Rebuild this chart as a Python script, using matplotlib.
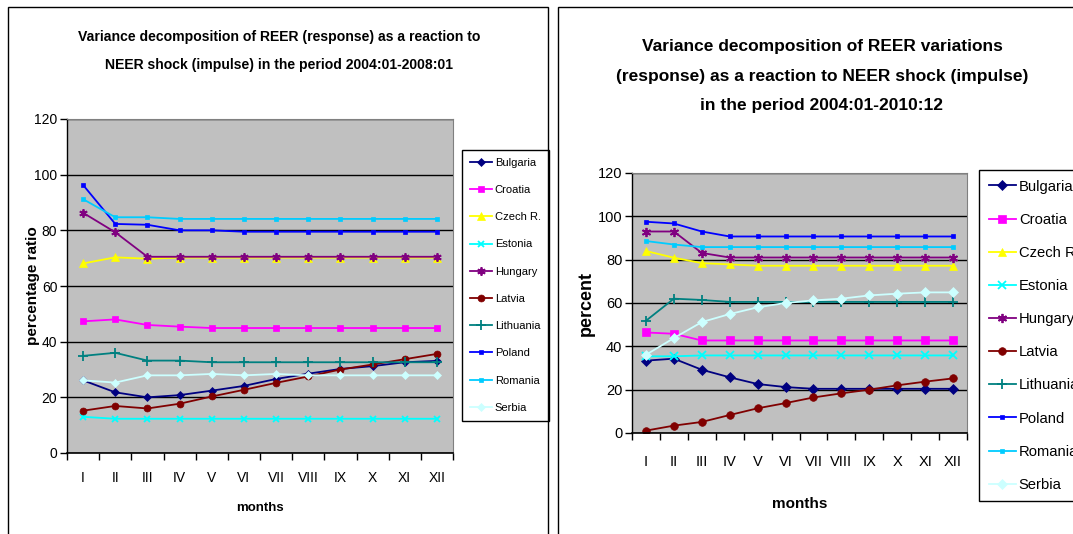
import matplotlib
matplotlib.use("Agg")
import matplotlib.pyplot as plt
from matplotlib import font_manager
from matplotlib.patches import Rectangle

# excel used Arial Narrow; take Liberation Sans Narrow when it is there
names = {f.name for f in font_manager.fontManager.ttflist}
if "Liberation Sans Narrow" in names:
    plt.rcParams["font.family"] = ["Liberation Sans Narrow", "DejaVu Sans"]
    k = 1.2
else:
    plt.rcParams["font.family"] = ["Liberation Sans", "DejaVu Sans"]
    k = 1.0

months = ["I", "II", "III", "IV", "V", "VI", "VII", "VIII", "IX", "X", "XI", "XII"]
countries = ["Bulgaria", "Croatia", "Czech R.", "Estonia", "Hungary",
             "Latvia", "Lithuania", "Poland", "Romania", "Serbia"]

# 2004:01-2008:01
bulgaria_08 = [26.1, 21.8, 20.0, 20.8, 22.4, 24.1, 26.6, 28.5, 30.2, 31.2, 32.6, 33.1]
croatia_08 = [47.3, 48.0, 46.0, 45.4, 44.9, 44.9, 44.9, 44.9, 44.9, 44.9, 44.9, 44.9]
czech_08 = [68.1, 70.3, 69.8, 70.2, 70.2, 70.2, 70.2, 70.2, 70.2, 70.2, 70.2, 70.2]
estonia_08 = [13.0, 12.3, 12.3, 12.3, 12.3, 12.3, 12.3, 12.3, 12.3, 12.3, 12.3, 12.3]
hungary_08 = [86.3, 79.3, 70.5, 70.5, 70.5, 70.5, 70.5, 70.5, 70.5, 70.5, 70.5, 70.5]
latvia_08 = [15.2, 16.9, 16.0, 17.7, 20.3, 22.7, 25.2, 27.5, 30.0, 31.8, 33.7, 35.6]
lithuania_08 = [34.9, 36.0, 33.2, 33.2, 32.6, 32.6, 32.6, 32.6, 32.6, 32.6, 32.6, 32.6]
poland_08 = [96.3, 82.3, 82.0, 80.0, 80.0, 79.5, 79.5, 79.5, 79.5, 79.5, 79.5, 79.5]
romania_08 = [91.2, 84.7, 84.7, 84.1, 84.1, 84.1, 84.1, 84.1, 84.1, 84.1, 84.1, 84.1]
serbia_08 = [26.1, 25.3, 27.9, 27.9, 28.4, 27.9, 28.4, 27.9, 27.9, 27.9, 27.9, 27.9]

# 2004:01-2010:12
bulgaria_10 = [33.4, 34.3, 29.2, 25.7, 22.6, 21.2, 20.4, 20.4, 20.4, 20.4, 20.4, 20.4]
croatia_10 = [46.4, 45.8, 42.7, 42.7, 42.7, 42.7, 42.7, 42.7, 42.7, 42.7, 42.7, 42.7]
czech_10 = [84.0, 80.9, 78.4, 77.8, 77.2, 77.2, 77.2, 77.2, 77.2, 77.2, 77.2, 77.2]
estonia_10 = [35.4, 35.4, 35.8, 35.8, 35.8, 35.8, 35.8, 35.8, 35.8, 35.8, 35.8, 35.8]
hungary_10 = [93.0, 93.0, 83.1, 81.0, 81.0, 81.0, 81.0, 81.0, 81.0, 81.0, 81.0, 81.0]
latvia_10 = [1.1, 3.4, 5.1, 8.3, 11.4, 13.8, 16.4, 18.3, 20.0, 22.0, 23.7, 25.2]
lithuania_10 = [51.8, 62.0, 61.4, 60.5, 60.5, 60.5, 60.5, 60.5, 60.5, 60.5, 60.5, 60.5]
poland_10 = [97.5, 96.7, 93.0, 90.7, 90.7, 90.7, 90.7, 90.7, 90.7, 90.7, 90.7, 90.7]
romania_10 = [88.6, 87.0, 85.8, 85.8, 85.8, 85.8, 85.8, 85.8, 85.8, 85.8, 85.8, 85.8]
serbia_10 = [36.1, 43.8, 51.2, 54.9, 58.0, 60.0, 61.2, 62.0, 63.5, 64.3, 64.9, 64.9]

series_08 = [bulgaria_08, croatia_08, czech_08, estonia_08, hungary_08,
             latvia_08, lithuania_08, poland_08, romania_08, serbia_08]
series_10 = [bulgaria_10, croatia_10, czech_10, estonia_10, hungary_10,
             latvia_10, lithuania_10, poland_10, romania_10, serbia_10]

# excel style per country: colour, marker, marker size factor
styles = [("#000080", "D", 0.85), ("#FF00FF", "s", 1.0), ("#FFFF00", "^", 1.1),
          ("#00FFFF", "x", 1.0), ("#800080", (6, 2, 0), 1.2), ("#800000", "o", 1.0),
          ("#008080", "+", 1.3), ("#0000FF", "s", 0.5), ("#00CCFF", "s", 0.65),
          ("#CCFFFF", "D", 0.85)]

fig = plt.figure(figsize=(10.73, 5.34), dpi=100)
W, H = 1073.0, 534.0

# chart frames
fig.patches.append(Rectangle((8 / W, -0.1), 540 / W, 1 - 7 / H + 0.1, transform=fig.transFigure,
                             fill=False, edgecolor="black", linewidth=1))
fig.patches.append(Rectangle((558 / W, -0.1), 0.6, 1 - 7 / H + 0.1, transform=fig.transFigure,
                             fill=False, edgecolor="black", linewidth=1))


def draw_panel(rect, data, msize, tick_fs, tick_pad, lab_fs, ylab_fs, ylabel, ylab_x, xlab_pad,
               leg_anchor, leg_fs, leg_space, leg_pad, hlen, htpad):
    ax = fig.add_axes(rect)
    ax.set_facecolor("#C0C0C0")
    x = list(range(1, 13))
    for name, vals, (col, mk, f) in zip(countries, data, styles):
        ax.plot(x, vals, color=col, marker=mk, markersize=msize * f, linewidth=1.3,
                markeredgewidth=1.3 if mk in ("x", "+", (6, 2, 0)) else 0.5,
                markeredgecolor=col, label=name)
    ax.set_xlim(0.5, 12.5)
    ax.set_ylim(0, 120)
    ax.set_yticks(range(0, 121, 20))
    ax.yaxis.grid(True, color="black", linewidth=1)
    ax.set_axisbelow(True)
    ax.set_xticks(x)
    ax.set_xticklabels(months)
    ax.set_xticks([i + 0.5 for i in range(0, 13)], minor=True)
    ax.tick_params(axis="x", which="major", length=0, pad=tick_pad, labelsize=tick_fs * k)
    ax.tick_params(axis="x", which="minor", length=5, width=1, direction="out")
    ax.tick_params(axis="y", length=5, width=1, direction="out", labelsize=tick_fs * k, pad=2)
    for s in ("top", "right"):
        ax.spines[s].set_color("#808080")
    ax.spines["left"].set_linewidth(1)
    ax.spines["bottom"].set_linewidth(1.2)
    ax.set_xlabel("months", fontsize=lab_fs * k, fontweight="bold", labelpad=xlab_pad)
    ax.set_ylabel(ylabel, fontsize=ylab_fs * k, fontweight="bold")
    ax.yaxis.set_label_coords(ylab_x, 0.5)
    leg = ax.legend(loc="upper left", bbox_to_anchor=leg_anchor, bbox_transform=fig.transFigure,
                    frameon=True, fancybox=False, edgecolor="black", fontsize=leg_fs * k,
                    handlelength=hlen / k, handletextpad=htpad / k, labelspacing=leg_space / k,
                    borderpad=leg_pad, borderaxespad=0, framealpha=1)
    leg.get_frame().set_linewidth(1)
    return ax


ax1 = draw_panel([67 / W, 1 - 453 / H, 386 / W, 334 / H], series_08, 5, 10, 13, 9.5, 11,
                 "percentage ratio", -0.07, 12, (462 / W, 1 - 150 / H), 8.0, 1.55, 0.7, 2.0, 0.25)
ax2 = draw_panel([632 / W, 1 - 433 / H, 335 / W, 260 / H], series_10, 5.5, 10.5, 16, 11, 13,
                 "percent", -0.11, 20, (979 / W, 1 - 170 / H), 10.6, 1.3, 0.65, 1.85, 0.2)

fig.text(279 / W, 1 - 51 / H,
         "Variance decomposition of REER (response) as a reaction to\n"
         "NEER shock (impulse) in the period 2004:01-2008:01",
         ha="center", va="center", fontsize=10.1 * k, fontweight="bold", linespacing=2.3 / k)
fig.text(822 / W, 1 - 76 / H,
         "Variance decomposition of REER variations\n"
         "(response) as a reaction to NEER shock (impulse)\n"
         "in the period 2004:01-2010:12",
         ha="center", va="center", fontsize=12.5 * k, fontweight="bold", linespacing=2.2 / k)

plt.savefig("out.png", dpi=100)
